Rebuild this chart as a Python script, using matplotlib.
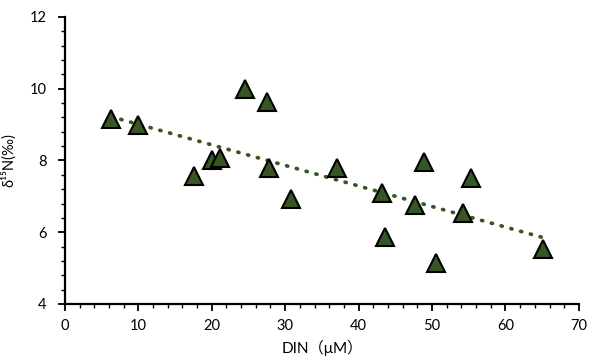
import matplotlib
matplotlib.use("Agg")
import matplotlib.pyplot as plt
import numpy as np
from matplotlib.ticker import MultipleLocator

# === DATA ===
din = [6.3, 9.9, 17.6, 20.0, 21.1, 24.5, 27.5, 27.8, 30.8, 37.0,
       43.2, 43.6, 47.7, 48.9, 50.5, 54.2, 55.3, 65.1]
d15n = [9.15, 9.0, 7.58, 8.0, 8.08, 9.98, 9.62, 7.78, 6.92, 7.8,
        7.08, 5.88, 6.76, 7.95, 5.15, 6.54, 7.5, 5.54]

x_ticks = [0, 10, 20, 30, 40, 50, 60, 70]
y_ticks = [4, 6, 8, 10, 12]

FAMILY = ['Lato', 'Noto Sans CJK JP', 'DejaVu Sans']
GREEN = '#375623'

plt.rcParams['font.family'] = FAMILY

fig = plt.figure(figsize=(5.95, 3.61), dpi=100)
ax = fig.add_axes([0.109, 0.158, 0.864, 0.795])

# trendline (linear fit over data range)
slope, icpt = np.polyfit(din, d15n, 1)
xs = np.array([min(din), max(din)])
ax.plot(xs, slope * xs + icpt, linestyle=(0, (0.3, 2.4)), color=GREEN,
        linewidth=2.7, dash_capstyle='round', zorder=2)

ax.plot(din, d15n, linestyle='none', marker='^', markersize=12.5,
        markerfacecolor=GREEN, markeredgecolor='black', markeredgewidth=1.5,
        zorder=3)

ax.set_xlim(0, 70)
ax.set_ylim(4, 12)
ax.set_xticks(x_ticks)
ax.set_yticks(y_ticks)
ax.xaxis.set_minor_locator(MultipleLocator(2))
ax.yaxis.set_minor_locator(MultipleLocator(0.4))

for s in ['top', 'right']:
    ax.spines[s].set_visible(False)
for s in ['left', 'bottom']:
    ax.spines[s].set_linewidth(1.6)

ax.tick_params(which='major', direction='out', length=5, width=1.3,
               labelsize=10.5, colors='black', pad=6)
ax.tick_params(which='minor', direction='out', length=3, width=1.0)
ax.tick_params(axis='y', pad=8)

ax.set_xlabel('DIN（μM）', fontsize=11, labelpad=5)
ax.set_ylabel('δ¹⁵N(‰)', fontsize=10.5, labelpad=10)

fig.savefig('out.png', dpi=100)
